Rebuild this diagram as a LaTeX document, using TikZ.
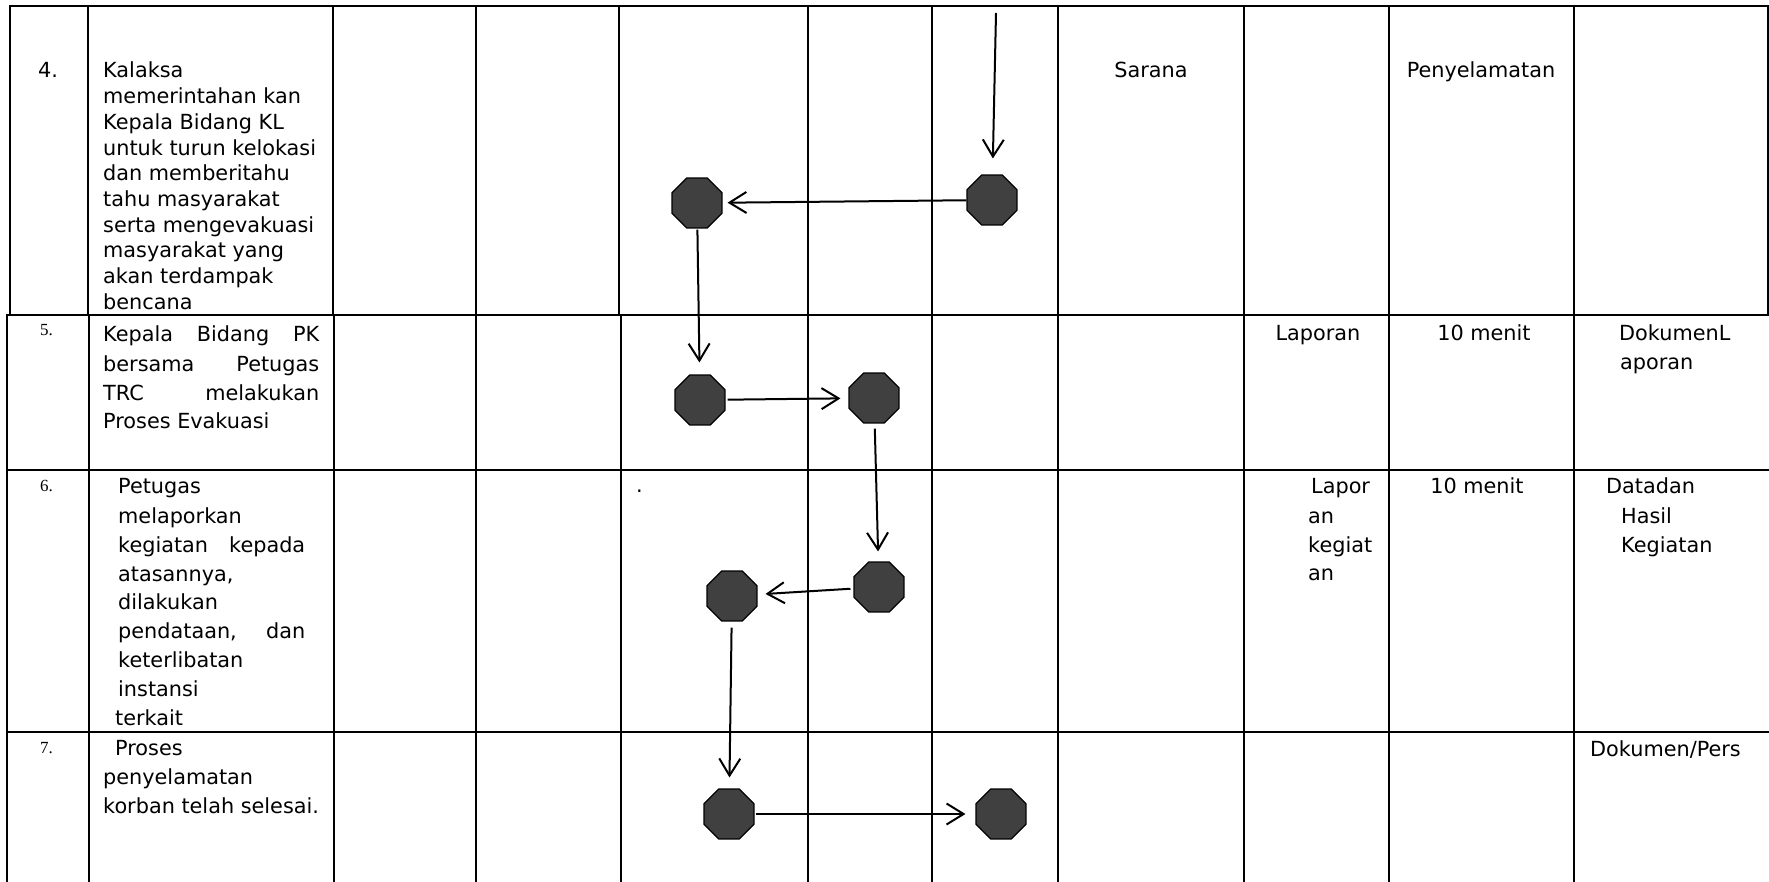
\documentclass[tikz,border=0pt]{standalone}
\usepackage{fontspec}
\setmainfont{DejaVu Sans}
\newfontfamily\numfont{Liberation Serif}
\usetikzlibrary{shapes.geometric,arrows.meta}
\definecolor{octgray}{HTML}{404040}
\begin{document}
\begin{tikzpicture}[x=1pt,y=-1pt,
  grid/.style={line width=2pt,line cap=rect},
  oct/.style={regular polygon,regular polygon sides=8,minimum size=54pt,inner sep=0pt,fill=octgray,draw=black,line width=1.2pt},
  arr/.style={line width=2pt,-{Straight Barb[length=17pt,width=21pt]}},
  txt/.style={anchor=base west,inner sep=0pt,font=\fontsize{20.8pt}{25pt}\selectfont},
  ctxt/.style={anchor=base,inner sep=0pt,font=\fontsize{20.8pt}{25pt}\selectfont},
  num/.style={anchor=base west,inner sep=0pt,font=\numfont\fontsize{17pt}{20pt}\selectfont}]
\useasboundingbox[fill=white] (0,0) rectangle (1769,882);

% ---- table grid ----
\draw[grid] (10,6) -- (1768,6);
\draw[grid,line width=2.6pt] (7,315) -- (1769,315);
\draw[grid] (7,470) -- (1769,470);
\draw[grid] (7,732) -- (1769,732);
\foreach \x in {10,88,333,476,619,808,932,1058,1244,1389,1574,1768}
  \draw[grid] (\x,6) -- (\x,315);
\foreach \x in {7,89,334,476,621,808,932,1058,1244,1389,1574}
  \draw[grid] (\x,315) -- (\x,882);

% ---- row 4 ----
\node[txt,font=\fontsize{20.8pt}{25pt}\selectfont] (n4) at (38,78) {4.};
\foreach \t [count=\i from 0] in {Kalaksa,memerintahan kan,Kepala Bidang KL,untuk turun kelokasi,dan memberitahu,tahu masyarakat,serta mengevakuasi,masyarakat yang,akan terdampak,bencana}
  \node[txt,name=r4-\i] at (103,{78+25.7*\i}) {\t};
\node[ctxt] (sarana) at (1151,78) {Sarana};
\node[ctxt] (penyel) at (1481,78) {Penyelamatan};

% ---- row 5 ----
\node[num] (n5) at (40,336) {5.};
\node[txt] (r5-0) at (103,342) {\makebox[216pt][s]{Kepala Bidang PK}};
\node[txt] (r5-1) at (103,371) {\makebox[216pt][s]{bersama Petugas}};
\node[txt] (r5-2) at (103,400) {\makebox[216pt][s]{TRC melakukan}};
\node[txt] (r5-3) at (103,428) {Proses Evakuasi};
\node[ctxt] (lap5) at (1318,341) {Laporan};
\node[ctxt] (men5) at (1484,341) {10 menit};
\node[txt] (dok5a) at (1619,341) {DokumenL};
\node[txt] (dok5b) at (1620,370) {aporan};

% ---- row 6 ----
\node[num] (n6) at (40,491) {6.};
\node[txt] (r6-0) at (118,493) {Petugas};
\node[txt] (r6-1) at (118,523) {melaporkan};
\node[txt] (r6-2) at (118,552) {\makebox[187pt][s]{kegiatan kepada}};
\node[txt] (r6-3) at (118,581) {atasannya,};
\node[txt] (r6-4) at (118,609) {dilakukan};
\node[txt] (r6-5) at (118,638) {\makebox[187pt][s]{pendataan, dan}};
\node[txt] (r6-6) at (118,667) {keterlibatan};
\node[txt] (r6-7) at (118,696) {instansi};
\node[txt] (r6-8) at (115,725) {terkait};
\node[txt] (dot6) at (636,492) {.};
\node[txt] (lap6a) at (1311,493) {Lapor};
\node[txt] (lap6b) at (1308,523) {an};
\node[txt] (lap6c) at (1308,552) {kegiat};
\node[txt] (lap6d) at (1308,580) {an};
\node[ctxt] (men6) at (1477,493) {10 menit};
\node[txt] (dat6a) at (1606,493) {Datadan};
\node[txt] (dat6b) at (1621,523) {Hasil};
\node[txt] (dat6c) at (1621,552) {Kegiatan};

% ---- row 7 ----
\node[num] (n7) at (40,753) {7.};
\node[txt] (r7-0) at (115,755) {Proses};
\node[txt] (r7-1) at (103,784) {penyelamatan};
\node[txt] (r7-2) at (103,813) {korban telah selesai.};
\node[txt] (dok7) at (1590,756) {Dokumen/Pers};

% ---- flow octagons ----
\node[oct] (G) at (697,203) {};
\node[oct] (H) at (992,200) {};
\node[oct] (A) at (700,400) {};
\node[oct] (B) at (874,398) {};
\node[oct] (C) at (879,587) {};
\node[oct] (D) at (732,596) {};
\node[oct] (E) at (729,814) {};
\node[oct] (F) at (1001,814) {};
\coordinate (start) at (996,13);

\draw[arr,shorten >=16pt] (start) -- (H);
\draw[arr,shorten >=5pt] (H) -- (G);
\draw[arr,shorten <=1pt,shorten >=12pt] (G) -- (A);
\draw[arr,shorten <=2pt,shorten >=8pt] (A) -- (B);
\draw[arr,shorten <=5pt,shorten >=10pt] (B) -- (C);
\draw[arr,shorten <=3pt,shorten >=8pt] (C) -- (D);
\draw[arr,shorten <=6pt,shorten >=11pt] (D) -- (E);
\draw[arr,shorten <=1pt,shorten >=10pt] (E) -- (F);
\end{tikzpicture}
\end{document}
